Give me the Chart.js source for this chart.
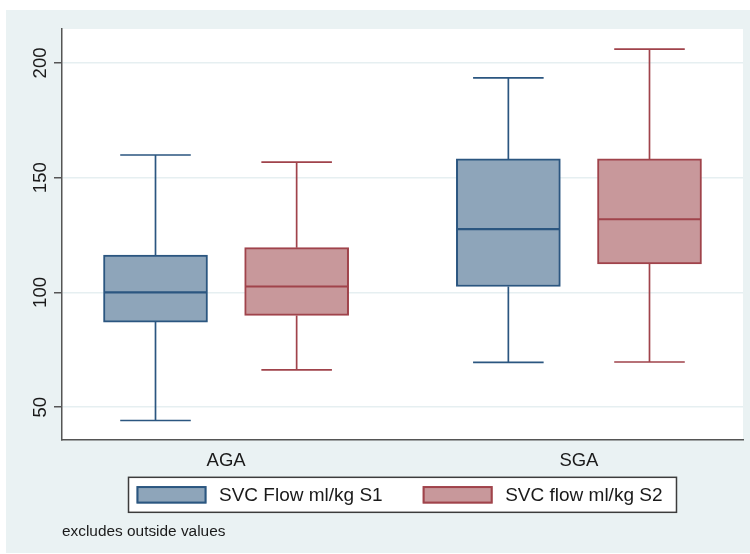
<!DOCTYPE html>
<html lang="en">
<head>
  <meta charset="UTF-8" />
  <title>SVC flow by group</title>
  <script src="https://cdn.jsdelivr.net/npm/chart.js"></script>
  <style>
    html, body { margin: 0; padding: 0; background: #fff; }
    .chart-container { width: 750px; height: 554px; }
  </style>
</head>
<body>
  <div class="chart-container"><canvas id="boxChart" width="750" height="554"></canvas></div>
  <script>
    const groups = ['AGA', 'SGA'];
    const seriesNames = ['SVC Flow ml/kg S1', 'SVC flow ml/kg S2'];
    const yTicks = [50, 100, 150, 200];
    const note = 'excludes outside values';

    // box plot summaries, one value per group (AGA, SGA)
    const s1Min = [44.2, 69.5];
    const s1Q1 = [87.1, 102.6];
    const s1Median = [100, 127.6];
    const s1Q3 = [116.3, 158.2];
    const s1Max = [159.9, 193.5];

    const s2Min = [66.3, 69.7];
    const s2Q1 = [90, 112.4];
    const s2Median = [102.6, 131.9];
    const s2Q3 = [119.5, 158.2];
    const s2Max = [156.8, 206];

    const fills = ['#8ea5ba', '#c8989b'];
    const borders = ['#2b5680', '#a0434b'];
    const fontFamily = "'Liberation Sans', Arial, sans-serif";

    const offsets = [-0.2, 0.2];
    const capHalf = 0.1;
    const medHalf = 0.146;

    function boxData(q1, q3, off) {
      return groups.map((g, i) => ({ x: i + 1 + off, y: [q1[i], q3[i]] }));
    }

    function whiskerData(lo, q1, q3, hi, off) {
      const pts = [];
      groups.forEach((g, i) => {
        const x = i + 1 + off;
        pts.push({ x, y: lo[i] }, { x, y: q1[i] }, { x, y: null });
        pts.push({ x, y: q3[i] }, { x, y: hi[i] }, { x, y: null });
        pts.push({ x: x - capHalf, y: lo[i] }, { x: x + capHalf, y: lo[i] }, { x, y: null });
        pts.push({ x: x - capHalf, y: hi[i] }, { x: x + capHalf, y: hi[i] }, { x, y: null });
      });
      return pts;
    }

    function medianData(med, off) {
      const pts = [];
      groups.forEach((g, i) => {
        const x = i + 1 + off;
        pts.push({ x: x - medHalf, y: med[i] }, { x: x + medHalf, y: med[i] }, { x, y: null });
      });
      return pts;
    }

    const lineStyle = (color, width, order) => ({
      type: 'line', borderColor: color, borderWidth: width, pointRadius: 0,
      fill: false, spanGaps: false, order: order
    });

    const stataFrame = {
      id: 'stataFrame',
      beforeDraw(chart) {
        const { ctx, chartArea } = chart;
        ctx.save();
        ctx.fillStyle = '#ffffff';
        ctx.fillRect(0, 0, chart.width, chart.height);
        ctx.fillStyle = '#eaf2f3';
        ctx.fillRect(6, 10, chart.width - 6, chart.height - 11);
        ctx.fillStyle = '#ffffff';
        ctx.fillRect(chartArea.left, chartArea.top, chartArea.right - chartArea.left, chartArea.bottom - chartArea.top);
        ctx.restore();
      },
      afterDraw(chart) {
        // framed legend below the axis labels
        const { ctx, chartArea } = chart;
        ctx.save();
        ctx.font = '19px ' + fontFamily;
        const widths = seriesNames.map(n => ctx.measureText(n).width);
        const sw = 70, sh = 17.5, textGap = 12.5, itemGap = 40, padL = 8, padR = 14;
        const total = padL + sw * 2 + textGap * 2 + widths[0] + widths[1] + itemGap + padR;
        const left = (chartArea.left + chartArea.right) / 2 - total / 2;
        const top = chartArea.bottom + 38;
        const h = 35;
        ctx.fillStyle = '#ffffff';
        ctx.fillRect(left, top, total, h);
        ctx.strokeStyle = '#3c3c3c';
        ctx.lineWidth = 1.5;
        ctx.strokeRect(left, top, total, h);
        let x = left + padL;
        const cy = top + h / 2;
        seriesNames.forEach((name, i) => {
          ctx.fillStyle = fills[i];
          ctx.fillRect(x, cy - sh / 2, sw, sh);
          ctx.strokeStyle = borders[i];
          ctx.lineWidth = 2;
          ctx.strokeRect(x + 1, cy - sh / 2 + 1, sw - 2, sh - 2);
          ctx.fillStyle = '#1a1a1a';
          ctx.textAlign = 'left';
          ctx.textBaseline = 'middle';
          ctx.fillText(name, x + sw + textGap, cy + 1);
          x += sw + textGap + widths[i] + itemGap;
        });
        ctx.restore();
      }
    };

    new Chart(document.getElementById('boxChart'), {
      type: 'bar',
      data: {
        datasets: [
          Object.assign(lineStyle(borders[0], 2.2, 0), { label: 'median S1', data: medianData(s1Median, offsets[0]) }),
          Object.assign(lineStyle(borders[1], 2.2, 0), { label: 'median S2', data: medianData(s2Median, offsets[1]) }),
          {
            label: seriesNames[0], data: boxData(s1Q1, s1Q3, offsets[0]),
            backgroundColor: fills[0], borderColor: borders[0], borderWidth: 2,
            borderSkipped: false, barThickness: 104, order: 1
          },
          {
            label: seriesNames[1], data: boxData(s2Q1, s2Q3, offsets[1]),
            backgroundColor: fills[1], borderColor: borders[1], borderWidth: 2,
            borderSkipped: false, barThickness: 104, order: 1
          },
          Object.assign(lineStyle(borders[0], 1.7, 2), { label: 'whisker S1', data: whiskerData(s1Min, s1Q1, s1Q3, s1Max, offsets[0]) }),
          Object.assign(lineStyle(borders[1], 1.7, 2), { label: 'whisker S2', data: whiskerData(s2Min, s2Q1, s2Q3, s2Max, offsets[1]) })
        ]
      },
      options: {
        responsive: false,
        animation: false,
        grouped: false,
        layout: { padding: { top: 29, right: 7, bottom: 7, left: 0 } },
        scales: {
          x: {
            type: 'linear',
            min: 0.535,
            max: 2.465,
            offset: false,
            afterBuildTicks: (scale) => { scale.ticks = groups.map((g, i) => ({ value: i + 1 })); },
            ticks: {
              callback: (value, index) => groups[index],
              color: '#1a1a1a',
              padding: 10,
              maxRotation: 0,
              autoSkip: false,
              font: { family: fontFamily, size: 18.5 }
            },
            grid: { display: false, drawTicks: false, offset: false },
            border: { display: true, color: '#555555', width: 1.5 }
          },
          y: {
            min: 36,
            max: 214.8,
            beginAtZero: false,
            afterBuildTicks: (scale) => { scale.ticks = yTicks.map(v => ({ value: v })); },
            afterFit: (scale) => { scale.width = 62; },
            ticks: {
              color: '#1a1a1a',
              minRotation: 90,
              maxRotation: 90,
              crossAlign: 'center',
              padding: -2,
              font: { family: fontFamily, size: 18.5 }
            },
            grid: { color: '#e6eff1', lineWidth: 1.5, tickLength: 8, tickColor: '#555555' },
            border: { display: true, color: '#555555', width: 1.5 }
          }
        },
        plugins: {
          legend: { display: false },
          tooltip: { enabled: false },
          subtitle: {
            display: true,
            text: note,
            position: 'bottom',
            align: 'start',
            fullSize: false,
            color: '#1a1a1a',
            font: { family: fontFamily, size: 15.4, weight: 'normal' },
            padding: { top: 41, bottom: 6 }
          }
        }
      },
      plugins: [stataFrame]
    });
  </script>
</body>
</html>
